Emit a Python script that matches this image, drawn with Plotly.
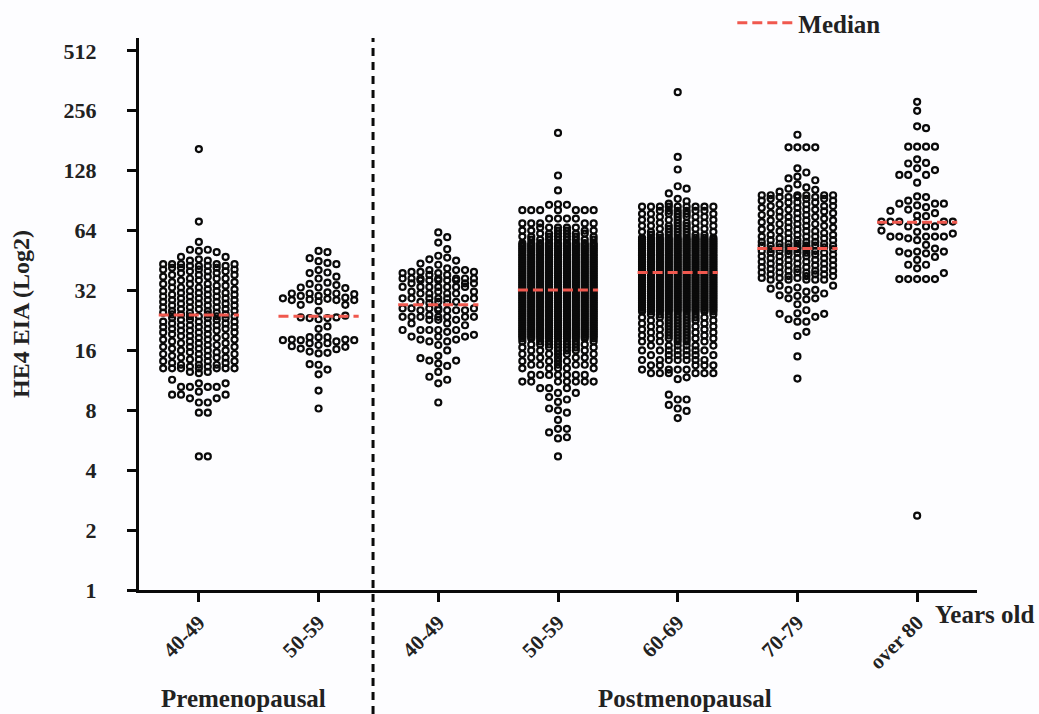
import plotly.graph_objects as go

categories = ["40-49", "50-59", "40-49", "50-59", "60-69", "70-79", "over 80"]
y_ticks = [0, 1, 2, 3, 4, 5, 6, 7, 8, 9]
y_tick_labels = ["1", "2", "4", "8", "16", "32", "64", "128", "256", "512"]
medians = [4.59, 4.57, 4.76, 5.01, 5.30, 5.70, 6.14]

# Log2 values: single points, then (level, number of points) in dense bands
pre_40_points = [7.36, 6.15, 5.81, 5.68, 5.68, 5.66, 5.64, 5.56, 5.56, 5.52, 5.50, 5.50,
                 3.64, 3.64, 3.62, 3.51, 3.45, 3.45, 3.39, 3.39, 3.39, 3.39, 3.31, 3.26, 3.26, 3.26,
                 3.20, 3.20, 3.13, 3.13, 2.96, 2.96, 2.23, 2.23]
pre_40_levels = [3.70, 3.73, 3.76, 3.79, 3.82, 3.85, 3.88, 3.91, 3.94, 3.97, 4.00, 4.03, 4.06, 4.09, 4.12, 4.15, 4.18, 4.21,
                 4.24, 4.27, 4.30, 4.33, 4.36, 4.39, 4.42, 4.45, 4.48, 4.51, 4.54, 4.57, 4.60, 4.63, 4.66, 4.69, 4.72,
                 4.75, 4.78, 4.81, 4.84, 4.87, 4.90, 4.93, 4.96, 4.99, 5.02, 5.05, 5.08, 5.11, 5.14, 5.17, 5.20, 5.23,
                 5.26, 5.29, 5.32, 5.35, 5.38, 5.41, 5.44]
pre_40_counts = [7, 2, 3, 2, 3, 2, 3, 2, 3, 2, 3, 2, 3, 2, 3, 2, 3, 2,
                 3, 2, 3, 3, 3, 3, 3, 3, 3, 3, 3, 4, 4, 3, 3, 3, 3,
                 3, 3, 3, 3, 3, 3, 3, 3, 3, 2, 3, 2, 3, 2, 2, 3, 2,
                 3, 2, 3, 3, 3, 4, 5]

pre_50_points = [5.66, 5.64, 5.54, 5.49, 5.46, 5.44, 5.34, 5.30, 5.29, 5.23, 5.20, 5.13, 5.11, 5.09, 5.05, 5.05, 5.04,
                 4.97, 4.95, 4.95, 4.95, 4.94, 4.91, 4.91, 4.88, 4.87, 4.86, 4.85, 4.84, 4.84, 4.84, 4.82, 4.76, 4.76,
                 4.66, 4.58, 4.55, 4.55, 4.54, 4.54, 4.52, 4.40, 4.36, 4.22, 4.22, 4.22, 4.18, 4.18, 4.17, 4.17, 4.17,
                 4.15, 4.12, 4.12, 4.09, 4.07, 4.06, 4.03, 4.02, 3.98, 3.96, 3.95, 3.77, 3.76, 3.68, 3.60, 3.33, 3.03]

post_40_points = [5.97, 5.89, 5.80, 5.69, 5.58, 5.55, 5.52, 5.50, 5.45, 5.43, 5.37, 5.34, 5.34, 5.34, 5.31, 5.31, 5.31,
                  5.29, 5.29, 5.26, 5.26, 5.20, 5.20, 5.20, 5.20, 5.20, 5.20, 5.20, 5.17, 5.17, 5.17, 5.17, 5.17,
                  5.12, 5.12, 5.12, 5.06, 5.06, 5.06, 5.06, 5.06, 5.06, 5.06, 4.98, 4.98, 4.98, 4.95, 4.95, 4.95, 4.95,
                  4.87, 4.87, 4.87, 4.87, 4.87, 4.87, 4.87, 4.81, 4.81, 4.81, 4.79, 4.79, 4.70, 4.70, 4.70, 4.70, 4.70,
                  4.67, 4.67, 4.67, 4.67, 4.67, 4.59, 4.56, 4.56, 4.56, 4.56, 4.56, 4.56, 4.56, 4.51, 4.51, 4.51,
                  4.45, 4.45, 4.42, 4.34, 4.34, 4.34, 4.34, 4.34, 4.31, 4.26, 4.23, 4.23, 4.23, 4.18, 4.18, 4.15, 4.15,
                  4.09, 4.00, 3.91, 3.87, 3.83, 3.83, 3.78, 3.74, 3.64, 3.56, 3.51, 3.45, 3.13]

post_50_points = [7.63, 6.92, 6.67, 6.44, 6.43, 6.43, 6.34, 6.34, 6.34, 6.34, 6.34, 6.34, 6.34, 6.20, 6.20, 6.20, 6.20,
                  3.37, 3.37, 3.37, 3.29, 3.29, 3.22, 3.18, 3.14, 3.03, 3.00, 2.96, 2.84, 2.69, 2.69, 2.63, 2.55, 2.53, 2.23]
post_50_levels = [3.48, 3.59, 3.70, 3.76, 3.82, 3.88, 3.94, 4.00, 4.05, 4.10, 4.15,
                  4.20, 4.23, 4.26, 4.29, 4.32, 4.35, 4.38, 4.41, 4.44, 4.47, 4.50, 4.53, 4.56, 4.59, 4.62, 4.65, 4.68, 4.71,
                  4.74, 4.77, 4.80, 4.83, 4.86, 4.89, 4.92, 4.95, 4.98, 5.01, 5.04, 5.07, 5.10, 5.13, 5.16, 5.19, 5.22, 5.25,
                  5.28, 5.31, 5.34, 5.37, 5.40, 5.43, 5.46, 5.49, 5.52, 5.55, 5.58, 5.61, 5.64, 5.67, 5.70, 5.73, 5.76, 5.79,
                  5.85, 5.90, 5.95, 6.00, 6.05, 6.12]
post_50_counts = [7, 7, 5, 5, 5, 5, 5, 6, 6, 7, 7,
                  9, 9, 9, 9, 9, 9, 9, 9, 9, 9, 9, 9, 9, 9, 9, 9, 9, 9,
                  9, 9, 9, 9, 9, 9, 9, 9, 9, 9, 9, 9, 9, 9, 9, 9, 9, 9,
                  9, 9, 9, 9, 9, 9, 9, 9, 9, 9, 9, 9, 9, 9, 9, 9, 9, 9,
                  8, 7, 6, 6, 5, 5]

post_60_points = [8.31, 7.23, 7.02, 6.74, 6.70, 6.62, 6.53, 6.49, 6.45,
                  3.55, 3.52, 3.26, 3.18, 3.18, 3.09, 3.03, 2.99, 2.87]
post_60_levels = [3.62, 3.68, 3.75, 3.84, 3.92, 4.00, 4.08, 4.15, 4.20, 4.25, 4.30, 4.35, 4.40, 4.45, 4.50, 4.55, 4.60,
                  4.65, 4.68, 4.71, 4.74, 4.77, 4.80, 4.83, 4.86, 4.89, 4.92, 4.95, 4.98, 5.01, 5.04, 5.07, 5.10, 5.13,
                  5.16, 5.19, 5.22, 5.25, 5.28, 5.31, 5.34, 5.37, 5.40, 5.43, 5.46, 5.49, 5.52, 5.55, 5.58, 5.61, 5.64,
                  5.67, 5.70, 5.73, 5.76, 5.79, 5.82, 5.85, 5.88,
                  5.93, 5.98, 6.03, 6.08, 6.13, 6.18, 6.23, 6.28, 6.33, 6.40]
post_60_counts = [6, 4, 5, 7, 6, 7, 6, 5, 6, 6, 6, 6, 6, 6, 6, 7, 7,
                  9, 9, 9, 9, 9, 9, 9, 9, 9, 9, 9, 9, 9, 9, 9, 9, 9,
                  9, 9, 9, 9, 9, 9, 9, 9, 9, 9, 9, 9, 9, 9, 9, 9, 9,
                  9, 9, 9, 9, 9, 9, 9, 9,
                  7, 6, 6, 6, 5, 5, 5, 6, 6, 9]

post_70_points = [7.60, 7.39, 7.39, 7.39, 7.39, 7.04, 6.97, 6.90, 6.87, 6.84, 6.77, 6.72, 6.70, 6.68, 6.65,
                  5.08, 5.08, 5.05, 5.03, 5.01, 5.01, 4.98, 4.95, 4.92, 4.91, 4.87, 4.87, 4.85, 4.77, 4.67,
                  4.62, 4.61, 4.61, 4.56, 4.52, 4.48, 4.48, 4.31, 4.24, 3.90, 3.53]
post_70_levels = [5.18, 5.21, 5.24, 5.27, 5.30, 5.33, 5.36, 5.39, 5.42, 5.45, 5.48, 5.51, 5.54, 5.57, 5.60, 5.63,
                  5.66, 5.69, 5.72, 5.75, 5.78, 5.81, 5.84, 5.87, 5.90, 5.93, 5.96, 5.99, 6.02, 6.05, 6.08, 6.11,
                  6.14, 6.17, 6.20, 6.23, 6.26, 6.29, 6.32, 6.35, 6.38, 6.41, 6.44, 6.47, 6.50, 6.53, 6.56, 6.59]
post_70_counts = [5, 3, 3, 3, 4, 3, 3, 3, 3, 3, 3, 3, 3, 3, 3, 4,
                  4, 4, 5, 5, 4, 3, 3, 3, 3, 3, 2, 3, 2, 3, 2, 3,
                  2, 3, 2, 3, 2, 3, 2, 3, 2, 3, 2, 3, 2, 3, 4, 6]

post_80_points = [8.15, 8.00, 7.74, 7.71, 7.40, 7.40, 7.40, 7.40, 7.19, 7.13, 7.12, 7.04, 7.01, 6.93, 6.93, 6.93, 6.80,
                  6.57, 6.56, 6.50, 6.45, 6.45, 6.45, 6.42, 6.39, 6.35, 6.33, 6.29, 6.25, 6.24, 6.15, 6.15, 6.15, 6.15, 6.15, 6.15,
                  6.07, 6.07, 6.07, 6.00, 5.98, 5.95, 5.90, 5.90, 5.90, 5.90, 5.90, 5.87, 5.84, 5.76, 5.70,
                  5.65, 5.65, 5.65, 5.62, 5.62, 5.56, 5.51, 5.43, 5.43, 5.37, 5.29, 5.19, 5.19, 5.19, 5.19, 5.19, 1.24]

groups = [
    (pre_40_points, pre_40_levels, pre_40_counts),
    (pre_50_points, [], []),
    (post_40_points, [], []),
    (post_50_points, post_50_levels, post_50_counts),
    (post_60_points, post_60_levels, post_60_counts),
    (post_70_points, post_70_levels, post_70_counts),
    (post_80_points, [], []),
]

SLOT = 0.0745
SEP = 0.13
SLOTS = [0, 1, -1, 2, -2, 3, -3, 4, -4]


def swarm(values, median):
    """Column of a dot swarm: outermost values first, each in the nearest free column."""
    columns = {s: [] for s in SLOTS}
    xs, ys = [], []
    for v in sorted(values, key=lambda a: -abs(a - median)):
        best, best_gap = None, -1.0
        for s in SLOTS:
            gap = min((abs(v - o) for o in columns[s]), default=99.0)
            if gap >= SEP:
                best = s
                break
            if gap > best_gap + 1e-9:
                best, best_gap = s, gap
        columns[best].append(v)
        xs.append(best * SLOT)
        ys.append(v)
    return xs, ys


SERIF = "Liberation Serif"
INK = "#0a0a0a"
TEXT = "#222222"
RED = "#f0584e"

fig = go.Figure()
for i, (points, levels, counts) in enumerate(groups):
    vals = list(points)
    for lev, n in zip(levels, counts):
        vals += [lev] * n
    dx, ys = swarm(vals, medians[i])
    fig.add_trace(go.Scatter(
        x=[i + d for d in dx], y=ys, mode="markers", showlegend=False, hoverinfo="y",
        marker=dict(symbol="circle-open", size=6, color=INK, line=dict(width=2.2, color=INK)),
    ))

for i, m in enumerate(medians):
    fig.add_trace(go.Scatter(
        x=[i - 0.335, i + 0.335], y=[m, m], mode="lines", name="Median",
        showlegend=(i == 0), line=dict(color=RED, width=3, dash="10px,5px"),
    ))

fig.add_shape(type="line", xref="x", yref="paper", x0=1.455, x1=1.455, y0=-0.2246, y1=1,
              line=dict(color=INK, width=3, dash="8px,6px"))

label_font = dict(family=SERIF, size=25, color=TEXT, weight="bold")
for text, x, y, xref, anchor in [
    ("Premenopausal", 0.377, -0.197, "x", "center"),
    ("Postmenopausal", 4.06, -0.197, "x", "center"),
    ("Years old", 794 / 838, -0.045, "paper", "left"),
]:
    fig.add_annotation(text=text, x=x, y=y, xref=xref, yref="paper", showarrow=False,
                       xanchor=anchor, yanchor="middle", font=label_font)

fig.update_layout(
    width=1039, height=714,
    margin=dict(l=139, r=62, t=38, b=124, autoexpand=False),
    paper_bgcolor="#fdfdff", plot_bgcolor="#fdfdff",
    font=dict(family=SERIF, color=TEXT),
    legend=dict(x=0.708, y=1.027, xanchor="left", yanchor="middle", itemwidth=56,
                bgcolor="rgba(0,0,0,0)", font=dict(family=SERIF, size=25, color=TEXT, weight="bold")),
    xaxis=dict(range=[-0.5, 6.5], tickmode="array", tickvals=list(range(7)), ticktext=categories,
               tickangle=-45, ticks="outside", ticklen=9, tickwidth=3, tickcolor=INK,
               showline=True, linewidth=3, linecolor=INK, showgrid=False, zeroline=False,
               tickfont=dict(family=SERIF, size=21, color=TEXT, weight="bold")),
    yaxis=dict(range=[0, 9.215], tickmode="array", tickvals=y_ticks, ticktext=y_tick_labels,
               ticks="outside", ticklen=9, tickwidth=3, tickcolor=INK, ticklabelstandoff=26,
               showline=True, linewidth=3, linecolor=INK, showgrid=False, zeroline=False,
               tickfont=dict(family=SERIF, size=22, color=TEXT, weight="bold"),
               title=dict(text="HE4 EIA (Log2)", standoff=28,
                          font=dict(family=SERIF, size=24, color=TEXT, weight="bold"))),
)

fig.write_html("out.html", config={"displayModeBar": False},
               post_script="document.body.style.margin='0';document.body.style.background='#fdfdff';")
